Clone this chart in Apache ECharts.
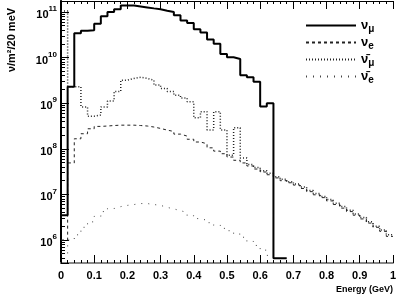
<!DOCTYPE html>
<html>
<head>
<meta charset="utf-8">
<script src="https://cdn.jsdelivr.net/npm/echarts@6/dist/echarts.min.js"></script>
<style>html,body{margin:0;padding:0;background:#fff}#c{width:399px;height:300px}</style>
</head>
<body>
<div id="c"></div>
<script>
// Bin edges in GeV (20 MeV bins)
var binEdges = [0,0.02,0.04,0.06,0.08,0.10,0.12,0.14,0.16,0.18,0.20,0.22,0.24,0.26,0.28,0.30,0.32,0.34,0.36,0.38,0.40,0.42,0.44,0.46,0.48,0.50,0.52,0.54,0.56,0.58,0.60,0.62,0.64,0.66,0.68,0.70,0.72,0.74,0.76,0.78,0.80,0.82,0.84,0.86,0.88,0.90,0.92,0.94,0.96,0.98,1.00];

// nu_mu flux per bin (starting at 0, 34 bins)
var numu = [3.5e6,2.3e9,3.4e10,3.9e10,4.0e10,5.5e10,8.1e10,1.0e11,1.15e11,1.38e11,1.38e11,1.32e11,1.26e11,1.2e11,1.15e11,1.07e11,1.0e11,8.5e10,6.5e10,5.75e10,4.2e10,3.55e10,2.5e10,2.0e10,1.2e10,1.02e10,9.3e9,4.1e9,3.7e9,2.95e9,8.5e8,1.0e9,4e5,4e5];
// nu_e flux per bin (50 bins)
var nue = [1.0e6,4.9e7,1.66e8,2.14e8,2.75e8,3.1e8,3.16e8,3.24e8,3.3e8,3.3e8,3.3e8,3.24e8,3.16e8,3.0e8,2.8e8,2.57e8,2.4e8,2.1e8,1.9e8,1.62e8,1.41e8,1.29e8,1.05e8,8.9e7,7.8e7,6.6e7,5.6e7,4.9e7,4.2e7,3.6e7,3.1e7,2.7e7,2.3e7,2.0e7,1.8e7,1.6e7,1.35e7,1.15e7,9.8e6,8.5e6,7.2e6,6.0e6,5.0e6,4.2e6,3.5e6,2.9e6,2.35e6,1.9e6,1.55e6,1.2e6];
// anti nu_mu flux per bin (50 bins)
var numubar = [1.05e11,2.3e9,2.3e9,8.3e8,5.2e8,5.5e8,8.3e8,1.12e9,1.8e9,3.2e9,3.5e9,3.7e9,3.5e9,3.2e9,2.5e9,2.1e9,1.8e9,1.5e9,1.3e9,1.07e9,4.8e8,6.5e8,2.6e8,6.5e8,2.6e8,7.2e7,2.9e8,6.3e7,4.5e7,3.9e7,3.3e7,2.9e7,2.45e7,2.15e7,1.9e7,1.7e7,1.45e7,1.22e7,1.05e7,9.0e6,7.7e6,6.4e6,5.4e6,4.5e6,3.7e6,3.1e6,2.5e6,2.0e6,1.65e6,1.3e6];
// anti nu_e flux per bin (32 bins)
var nuebar = [5e5,1.0e6,1.3e6,1.9e6,2.5e6,3.3e6,4.2e6,4.9e6,5.4e6,5.75e6,6.0e6,6.3e6,6.3e6,6.0e6,5.75e6,5.2e6,4.8e6,4.4e6,4.0e6,3.4e6,2.95e6,2.7e6,2.4e6,2.1e6,1.8e6,1.6e6,1.35e6,1.15e6,9.3e5,7.6e5,6.0e5,4.6e5];

var xTicks = ['0','0.1','0.2','0.3','0.4','0.5','0.6','0.7','0.8','0.9','1'];
var names = ['numu','nue','numubar','nuebar'];
var labels = {
  numu: '{a|\u03bd}{s|\u03bc}',
  nue: '{a|\u03bd}{s|e}',
  numubar: '{a|\u03bd\u0304}{s|\u03bc}',
  nuebar: '{a|\u03bd\u0304}{s|e}'
};
var yTitle = '\u03bd/m\u00b2/20 meV';
var xTitle = 'Energy (GeV)';

function hist(vals) {
  var d = [];
  for (var i = 0; i < vals.length; i++) d.push([binEdges[i], vals[i]]);
  d.push([binEdges[vals.length], vals[vals.length - 1]]);
  return d;
}

var chart = echarts.init(document.getElementById('c'), null, {renderer: 'canvas'});
var font = '"Liberation Sans", Arial, sans-serif';
var hide = {color: 'rgba(0,0,0,0)', borderColor: 'rgba(0,0,0,0)', borderWidth: 0};
var yMin = Math.pow(10, 5.496), yMax = Math.pow(10, 11.241);
chart.setOption({
  animation: false,
  backgroundColor: '#fff',
  grid: {left: 61, right: 5, top: 1, bottom: 37, show: false},
  legend: {
    orient: 'vertical', left: 300, top: 14, itemWidth: 50, itemHeight: 10, itemGap: 2,
    data: names,
    itemStyle: hide,
    formatter: function (n) { return labels[n]; },
    textStyle: {
      fontFamily: font, color: '#000',
      rich: {
        a: {fontSize: 13, fontFamily: font, color: '#000', fontWeight: 'bold'},
        s: {fontSize: 10, fontFamily: font, color: '#000', fontWeight: 'bold', padding: [7, 0, 0, 0]}
      }
    }
  },
  xAxis: [{
    type: 'value', min: 0, max: 1, interval: 0.1, position: 'bottom',
    axisLine: {lineStyle: {color: '#888', width: 2}},
    axisTick: {inside: true, length: 8, lineStyle: {color: '#000'}},
    minorTick: {show: true, splitNumber: 5, length: 3, lineStyle: {color: '#000'}},
    splitLine: {show: false},
    axisLabel: {
      margin: 7, fontSize: 11, fontWeight: 'bold', fontFamily: font, color: '#000',
      formatter: function (v) { return xTicks[Math.round(v * 10)]; }
    }
  }, {
    type: 'value', min: 0, max: 1, interval: 0.1, position: 'top',
    axisLine: {show: true, lineStyle: {color: '#000', width: 1}},
    axisTick: {inside: true, length: 8, lineStyle: {color: '#000'}},
    minorTick: {show: true, splitNumber: 5, length: 3, lineStyle: {color: '#000'}},
    splitLine: {show: false}, axisLabel: {show: false}
  }],
  yAxis: [{
    type: 'log', min: yMin, max: yMax, position: 'left',
    axisLine: {show: true, lineStyle: {color: '#000', width: 2}},
    axisTick: {inside: true, length: 8, lineStyle: {color: '#000'}},
    minorTick: {show: true, splitNumber: 9, length: 4, lineStyle: {color: '#000'}},
    splitLine: {show: false},
    axisLabel: {
      showMinLabel: false, showMaxLabel: false, margin: 4,
      formatter: function (v) { return '{b|10}{e|' + Math.round(Math.log10(v)) + '}'; },
      rich: {
        b: {fontSize: 11, fontWeight: 'bold', fontFamily: font, color: '#000', padding: [6, 0, 0, 0]},
        e: {fontSize: 8, fontWeight: 'bold', fontFamily: font, color: '#000', padding: [0, 0, 6, 0]}
      }
    }
  }, {
    type: 'log', min: yMin, max: yMax, position: 'right',
    axisLine: {show: true, lineStyle: {color: '#000', width: 1.5}},
    axisTick: {show: false}, axisLabel: {show: false}, splitLine: {show: false}
  }, {
    type: 'log', min: yMin, max: yMax, position: 'left', offset: 49,
    axisLine: {show: false}, axisTick: {show: false}, axisLabel: {show: false}, splitLine: {show: false},
    name: yTitle, nameLocation: 'end', nameRotate: 90, nameGap: -39,
    nameTextStyle: {fontSize: 11, fontWeight: 'bold', fontFamily: font, color: '#000', align: 'center', verticalAlign: 'middle'}
  }],
  graphic: [
    {type: 'text', right: 6, top: 285, style: {text: xTitle, font: 'bold 9px ' + font, fill: '#000'}}
  ],
  series: [
    {name: 'numu', type: 'line', step: 'end', symbol: 'none', data: hist(numu), z: 5,
     lineStyle: {color: '#000', width: 2, type: 'solid'}, itemStyle: hide},
    {name: 'nue', type: 'line', step: 'end', symbol: 'none', data: hist(nue), z: 4,
     lineStyle: {color: '#222', width: 1, type: [3, 3]}, itemStyle: hide},
    {name: 'numubar', type: 'line', step: 'end', symbol: 'none', data: hist(numubar), z: 3,
     lineStyle: {color: '#222', width: 1.5, type: [1, 2]}, itemStyle: hide},
    {name: 'nuebar', type: 'line', step: 'end', symbol: 'none', data: hist(nuebar), z: 2,
     lineStyle: {color: '#444', width: 1, type: [1, 6]}, itemStyle: hide}
  ]
});
</script>
</body>
</html>
